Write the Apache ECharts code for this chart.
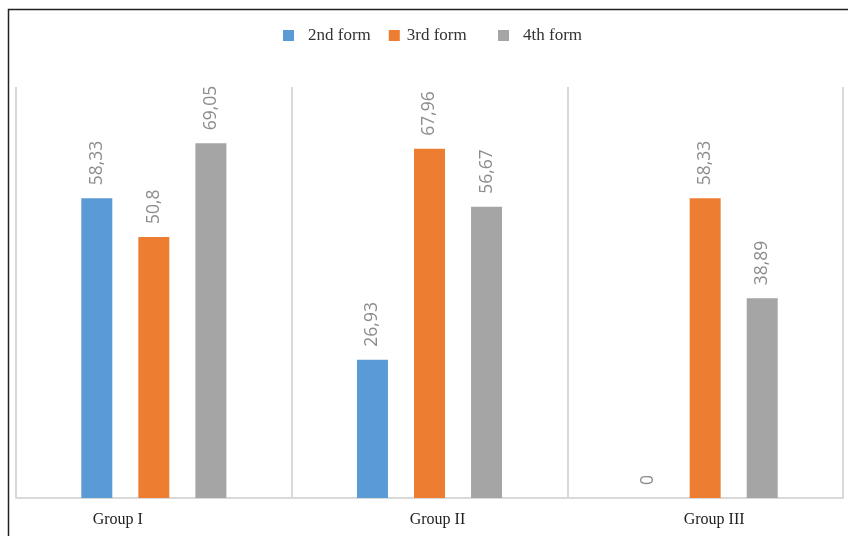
<!DOCTYPE html>
<html>
<head>
<meta charset="utf-8">
<script src="https://cdn.jsdelivr.net/npm/echarts@6/dist/echarts.min.js"></script>
<style>
  html, body { margin: 0; padding: 0; background: #fff; }
  #chart { width: 848px; height: 536px; }
</style>
</head>
<body>
<div id="chart"></div>
<script>
// Groups along the x axis
const categories = ['Group I', 'Group II', 'Group III'];

// Series names and values (percent)
const seriesNames = ['2nd form', '3rd form', '4th form'];
const form2 = [58.33, 26.93, 0];
const form3 = [50.8, 67.96, 58.33];
const form4 = [69.05, 56.67, 38.89];

const colors = ['#5B9BD5', '#ED7D31', '#A5A5A5'];

// Category label offsets (horizontal nudges of the group names)
const catPadding = [[0, 72, 0, 0], [0, 0, 0, 16], [0, 0, 0, 18]];

const chart = echarts.init(document.getElementById('chart'), null, { renderer: 'canvas' });

const commaFmt = p => String(p.value).replace('.', ',');

function barSeries(name, values, color) {
  return {
    name: name,
    type: 'bar',
    data: values,
    barWidth: 31,
    barGap: '84%',
    itemStyle: { color: color },
    label: {
      show: true,
      position: 'top',
      rotate: 90,
      align: 'left',
      verticalAlign: 'middle',
      distance: 13,
      color: '#8c8c8c',
      fontFamily: 'Open Sans',
      fontSize: 17.5,
      formatter: commaFmt
    }
  };
}

const legendBase = {
  top: 22,
  itemWidth: 11,
  itemHeight: 11,
  itemGap: 18,
  icon: 'rect',
  textStyle: { fontFamily: 'Liberation Serif', fontSize: 17, color: '#333' }
};

chart.setOption({
  animation: false,
  backgroundColor: '#fff',
  legend: [
    Object.assign({}, legendBase, {
      left: 278,
      data: [
        { name: seriesNames[0], textStyle: { padding: [0, 0, 0, 9] } },
        { name: seriesNames[1], textStyle: { padding: [0, 0, 0, 2] } }
      ]
    }),
    Object.assign({}, legendBase, {
      left: 493,
      data: [
        { name: seriesNames[2], textStyle: { padding: [0, 0, 0, 9] } }
      ]
    })
  ],
  grid: { left: 16, right: 5, top: 87, bottom: 38 },
  xAxis: {
    type: 'category',
    data: categories.map((c, i) => ({ value: c, textStyle: { padding: catPadding[i] } })),
    axisLine: { show: true, lineStyle: { color: '#d9d9d9', width: 2 } },
    axisTick: { show: false },
    splitLine: { show: true, lineStyle: { color: '#d9d9d9', width: 2 } },
    axisLabel: {
      margin: 14,
      fontFamily: 'Liberation Serif',
      fontSize: 16,
      color: '#222'
    }
  },
  yAxis: {
    type: 'value',
    min: 0,
    max: 80,
    show: false,
    splitLine: { show: false }
  },
  series: [
    barSeries(seriesNames[0], form2, colors[0]),
    barSeries(seriesNames[1], form3, colors[1]),
    barSeries(seriesNames[2], form4, colors[2])
  ],
  graphic: [{
    type: 'polyline',
    shape: { points: [[8.5, 536], [8.5, 9.5], [848, 9.5]] },
    style: { stroke: '#222', lineWidth: 1.5, fill: null },
    silent: true
  }]
});
</script>
</body>
</html>
